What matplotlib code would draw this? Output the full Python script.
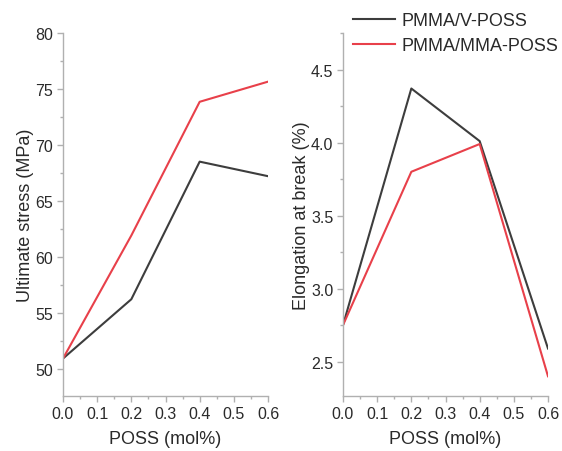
import matplotlib
matplotlib.use("Agg")
import matplotlib.pyplot as plt
from matplotlib.ticker import MultipleLocator

plt.rcParams['font.family'] = ['Liberation Sans', 'DejaVu Sans']

poss = [0.0, 0.2, 0.4, 0.6]
stress_v = [50.9, 56.2, 68.5, 67.2]
stress_mma = [50.9, 61.9, 73.85, 75.65]
elong_v = [2.75, 4.37, 4.01, 2.59]
elong_mma = [2.75, 3.80, 3.99, 2.40]
labels = ['PMMA/V-POSS', 'PMMA/MMA-POSS']

c_black = '#3d3d3d'
c_red = '#e8404a'
spine_c = '#b0b0b0'
text_c = '#2a2a2a'

fig = plt.figure(figsize=(5.62, 4.52), dpi=100)
W, H = 562, 452
ax1 = fig.add_axes([63 / W, (H - 397) / H, 205 / W, 363 / H])
ax2 = fig.add_axes([343 / W, (H - 397) / H, 205 / W, 363 / H])

ax1.plot(poss, stress_v, color=c_black, lw=1.5, label=labels[0])
ax1.plot(poss, stress_mma, color=c_red, lw=1.5, label=labels[1])
ax2.plot(poss, elong_v, color=c_black, lw=1.5, label=labels[0])
ax2.plot(poss, elong_mma, color=c_red, lw=1.5, label=labels[1])

ax1.set_xlim(0, 0.6)
ax1.set_ylim(47.55, 80)
ax2.set_xlim(0, 0.6)
ax2.set_ylim(2.265, 4.75)

ax1.yaxis.set_major_locator(MultipleLocator(5))
ax1.yaxis.set_minor_locator(MultipleLocator(2.5))
ax2.yaxis.set_major_locator(MultipleLocator(0.5))
ax2.yaxis.set_minor_locator(MultipleLocator(0.25))

for ax in (ax1, ax2):
    ax.xaxis.set_major_locator(MultipleLocator(0.1))
    ax.xaxis.set_minor_locator(MultipleLocator(0.05))
    ax.xaxis.set_major_formatter(plt.FormatStrFormatter('%.1f'))
    ax.yaxis.set_major_formatter(plt.FormatStrFormatter('%g' if ax is ax1 else '%.1f'))
    ax.spines['top'].set_visible(False)
    ax.spines['right'].set_visible(False)
    for s in ('left', 'bottom'):
        ax.spines[s].set_color(spine_c)
        ax.spines[s].set_linewidth(1.0)
    ax.tick_params(which='major', direction='out', length=4, width=1.0,
                   color=spine_c, labelsize=11.5, labelcolor=text_c, pad=3)
    ax.tick_params(which='minor', direction='out', length=2.5, width=1.0,
                   color=spine_c)
    ax.set_xlabel('POSS (mol%)', fontsize=13, color=text_c, labelpad=7)
    ax.set_facecolor('none')

ax1.set_ylabel('Ultimate stress (MPa)', fontsize=13, color=text_c, labelpad=1)
ax2.set_ylabel('Elongation at break (%)', fontsize=13, color=text_c, labelpad=1)

handles, lbls = ax2.get_legend_handles_labels()
fig.legend(handles, lbls, loc='upper left', bbox_to_anchor=(346 / W, 1 - 6 / H),
           frameon=False, fontsize=13, handlelength=2.3, handletextpad=0.4,
           labelspacing=0.45, borderaxespad=0, labelcolor=text_c)

fig.savefig('out.png', dpi=100)
